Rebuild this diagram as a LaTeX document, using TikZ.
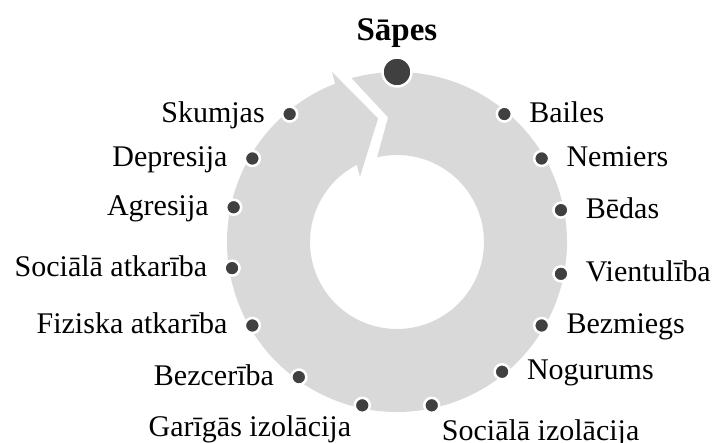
\documentclass[tikz,border=0pt]{standalone}
\usepackage{fontspec}
\setmainfont{Liberation Serif}
\usetikzlibrary{positioning}
\definecolor{ringgray}{HTML}{D9D9D9}
\definecolor{dotgray}{HTML}{404040}
\begin{document}
\begin{tikzpicture}[x=1pt,y=1pt,
        dot/.style={draw=white,circle,line width=2.5pt,fill=dotgray,minimum size=15pt,inner sep=0pt},
        bigdot/.style={dot,minimum size=29pt},
        lbl/.style={inner sep=0pt,font=\fontsize{30}{36}\selectfont},
        rlbl/.style={lbl,anchor=base west,yshift=-8pt},
        llbl/.style={lbl,anchor=base east,yshift=-8pt},
        node distance=16pt]
        \useasboundingbox (-397,-201) rectangle (318,242);
        %% Ring
        \fill[ringgray] (105.5:170) arc[start angle=105.5,end angle=-248.6,radius=170]
            -- (110.9:182) -- (98.7:125) -- (119.6:75) -- (117.5:87)
            arc[start angle=-242.5,end angle=103.2,radius=87] -- (94.1:125) -- cycle;
        %% Dots
        \node[bigdot] (sapes) at (90:170) {};
        \node[dot] (bailes) at (50:167) {};
        \node[dot] (nemiers) at (30:167) {};
        \node[dot] (bedas) at (11:167) {};
        \node[dot] (vientuliba) at (-11:167) {};
        \node[dot] (bezmiegs) at (-30:167) {};
        \node[dot] (nogurums) at (-51:167) {};
        \node[dot] (socizol) at (-78:167) {};
        \node[dot] (garizol) at (-102:167) {};
        \node[dot] (bezceriba) at (-126:167) {};
        \node[dot] (fizatk) at (-150:167) {};
        \node[dot] (socatk) at (-171:167) {};
        \node[dot] (agresija) at (168:167) {};
        \node[dot] (depresija) at (150:167) {};
        \node[dot] (skumjas) at (130:167) {};
        %% Labels
        \node[inner sep=0pt,font=\bfseries\fontsize{33}{40}\selectfont,above=9pt of sapes] (tsapes) {Sāpes};
        \node[right=of bailes,rlbl] (tbailes) {Bailes};
        \node[right=of nemiers,rlbl] (tnemiers) {Nemiers};
        \node[right=of bedas,rlbl] (tbedas) {Bēdas};
        \node[right=of vientuliba,rlbl] (tvientuliba) {Vientulība};
        \node[right=of bezmiegs,rlbl] (tbezmiegs) {Bezmiegs};
        \node[right=of nogurums,rlbl] (tnogurums) {Nogurums};
        \node[lbl,anchor=base west] (tsocizol) at ([shift={(10,-35)}]socizol.center) {Sociālā izolācija};
        \node[lbl,anchor=base east] (tgarizol) at ([shift={(-11,-31)}]garizol.center) {Garīgās izolācija};
        \node[left=of bezceriba,llbl] (tbezceriba) {Bezcerība};
        \node[left=of fizatk,llbl] (tfizatk) {Fiziska atkarība};
        \node[left=of socatk,llbl] (tsocatk) {Sociālā atkarība};
        \node[left=of agresija,llbl] (tagresija) {Agresija};
        \node[left=of depresija,llbl] (tdepresija) {Depresija};
        \node[left=of skumjas,llbl] (tskumjas) {Skumjas};
    \end{tikzpicture}
\end{document}
